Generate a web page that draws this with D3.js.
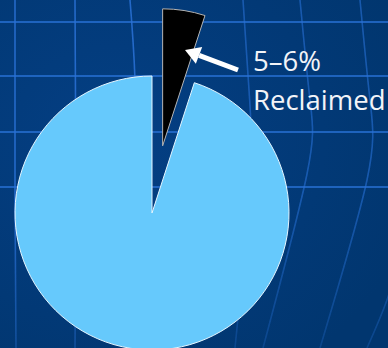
<!DOCTYPE html>
<html>
<head>
<meta charset="utf-8">
<script src="https://cdn.jsdelivr.net/npm/d3@7"></script>
<style>
  html, body { margin: 0; padding: 0; background: #023a7a; }
  svg { display: block; }
</style>
</head>
<body>
<svg id="chart"></svg>
<script>
// pie data
let categories = ["Reclaimed", "Not reclaimed"];
let values = [5, 95];
let labelLines = ["5–6%", "Reclaimed"];

let width = 388,
  height = 348;
let cx = 152,
  cy = 213,
  radius = 137,
  explode = 68;

let svg = d3.select("#chart").attr("width", width).attr("height", height);

// background
let defs = svg.append("defs");
let bg = defs
  .append("radialGradient")
  .attr("id", "bg")
  .attr("cx", "30%")
  .attr("cy", "40%")
  .attr("r", "80%");
bg.append("stop").attr("offset", "0%").attr("stop-color", "#043f84");
bg.append("stop").attr("offset", "100%").attr("stop-color", "#01366f");
svg
  .append("rect")
  .attr("width", width)
  .attr("height", height)
  .attr("fill", "url(#bg)");

let glow = defs.append("filter").attr("id", "glow");
glow.append("feGaussianBlur").attr("stdDeviation", 0.6);

// grid fades toward the bottom
let fade = defs
  .append("linearGradient")
  .attr("id", "fade")
  .attr("x1", 0)
  .attr("y1", 0)
  .attr("x2", 0)
  .attr("y2", 1);
fade.append("stop").attr("offset", "0%").attr("stop-color", "#fff");
fade.append("stop").attr("offset", "55%").attr("stop-color", "#fff");
fade.append("stop").attr("offset", "100%").attr("stop-color", "#777");
defs
  .append("mask")
  .attr("id", "gridMask")
  .attr("maskUnits", "userSpaceOnUse")
  .append("rect")
  .attr("width", width)
  .attr("height", height)
  .attr("fill", "url(#fade)");

// grid lines (globe)
let grid = svg
  .append("g")
  .attr("fill", "none")
  .attr("stroke", "#2a72d6")
  .attr("stroke-width", 1.6)
  .attr("filter", "url(#glow)")
  .attr("mask", "url(#gridMask)");

let hLines = [22, 76, 132, 187];
hLines.forEach(function (y) {
  grid
    .append("line")
    .attr("x1", 0)
    .attr("x2", width)
    .attr("y1", y)
    .attr("y2", y);
});

let curve = d3.line().curve(d3.curveNatural);
let meridians = [
  [[15, 0], [15, 200], [16, 348]],
  [[75, 0], [76, 200], [75, 348]],
  [[130, 0], [135, 80], [137, 200]],
  [[243, 0], [249, 90], [250, 180], [235, 348]],
  [[300, 0], [310, 100], [307, 174], [263, 348]],
  [[360, 0], [370, 100], [367, 180], [320, 348]],
  [[400, 250], [388, 297], [367, 348]],
];
meridians.forEach(function (pts, i) {
  grid
    .append("path")
    .attr("d", curve(pts))
    .attr("stroke-opacity", i < 3 ? 0.85 : 0.6);
});

// pie
let pie = d3
  .pie()
  .sort(null)
  .value((d) => d);
let arc = d3.arc().innerRadius(0).outerRadius(radius);
let arcs = pie(values);
let colors = ["#000000", "#66c9fc"];
let strokes = ["#b5b5b5", "#e6f6ff"];

let g = svg.append("g").attr("transform", "translate(" + cx + "," + cy + ")");
g.selectAll("path.slice")
  .data(arcs)
  .enter()
  .append("path")
  .attr("class", "slice")
  .attr("d", arc)
  .attr("fill", (d, i) => colors[i])
  .attr("stroke", (d, i) => strokes[i])
  .attr("stroke-width", 1)
  .attr("transform", function (d, i) {
    if (i != 0) return null;
    let a = (d.startAngle + d.endAngle) / 2;
    return (
      "translate(" + explode * Math.sin(a) + "," + -explode * Math.cos(a) + ")"
    );
  });

// arrow
let tail = [238, 70],
  tip = [185, 50];
let ang = Math.atan2(tip[1] - tail[1], tip[0] - tail[0]);
let headLen = 15,
  headW = 9;
let bx = tip[0] - headLen * Math.cos(ang),
  by = tip[1] - headLen * Math.sin(ang);
let nx = -Math.sin(ang),
  ny = Math.cos(ang);
svg
  .append("line")
  .attr("x1", tail[0])
  .attr("y1", tail[1])
  .attr("x2", bx)
  .attr("y2", by)
  .attr("stroke", "#ffffff")
  .attr("stroke-width", 5);
svg
  .append("path")
  .attr(
    "d",
    "M" + tip[0] + "," + tip[1] +
      "L" + (bx + nx * headW) + "," + (by + ny * headW) +
      "L" + (bx - nx * headW) + "," + (by - ny * headW) + "Z"
  )
  .attr("fill", "#ffffff");

// label
let label = svg
  .append("text")
  .attr("x", 253)
  .attr("y", 71)
  .attr("fill", "#f2f4f8")
  .attr("font-family", "'Open Sans', 'DejaVu Sans', sans-serif")
  .attr("font-size", "27.5px");
label
  .selectAll("tspan")
  .data(labelLines)
  .enter()
  .append("tspan")
  .attr("x", 253)
  .attr("dy", (d, i) => (i == 0 ? 0 : 39))
  .text((d) => d);
</script>
</body>
</html>
